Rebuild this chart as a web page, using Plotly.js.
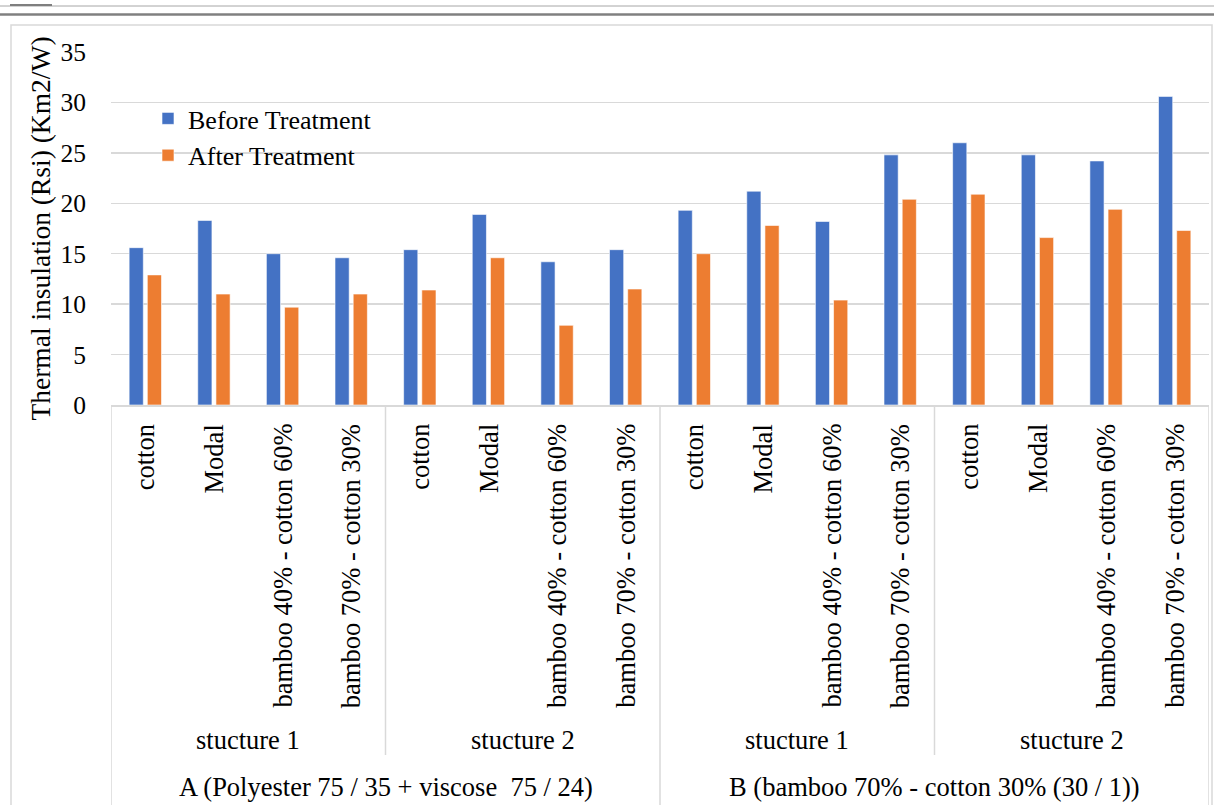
<!DOCTYPE html>
<html>
<head>
<meta charset="utf-8">
<script src="https://cdn.plot.ly/plotly-3.0.1.min.js"></script>
<style>
  html, body { margin: 0; padding: 0; background: #ffffff; }
  #chart { width: 1214px; height: 805px; }
</style>
</head>
<body>
<div id="chart"></div>
<script>
// ---- Data ----
const varieties = [
  'cotton', 'Modal', 'bamboo 40% - cotton 60%', 'bamboo 70% - cotton 30%',
  'cotton', 'Modal', 'bamboo 40% - cotton 60%', 'bamboo 70% - cotton 30%',
  'cotton', 'Modal', 'bamboo 40% - cotton 60%', 'bamboo 70% - cotton 30%',
  'cotton', 'Modal', 'bamboo 40% - cotton 60%', 'bamboo 70% - cotton 30%'
];
const structures = ['stucture 1', 'stucture 2', 'stucture 1', 'stucture 2'];
const groups = ['A (Polyester 75 / 35 + viscose&nbsp; 75 / 24)', 'B (bamboo 70% - cotton 30% (30 / 1))'];
const beforeTreatment = [15.6, 18.3, 15.0, 14.6, 15.4, 18.9, 14.2, 15.4, 19.3, 21.2, 18.2, 24.8, 26.0, 24.8, 24.2, 30.6];
const afterTreatment  = [12.9, 11.0, 9.7, 11.0, 11.4, 14.6, 7.9, 11.5, 15.0, 17.8, 10.4, 20.4, 20.9, 16.6, 19.4, 17.3];
const seriesNames = ['Before Treatment', 'After Treatment'];
const yTitle = 'Thermal insulation (Rsi) (Km2/W)';

// ---- Layout constants ----
const W = 1214, H = 805;
const mL = 111, mR = 5, mT = 52, mB = 400;
const plotH = H - mT - mB;
const plotW = W - mL - mR;
const py = px => ((H - mB) - px) / plotH;   // pixel y -> paper y
const pxr = px => (px - mL) / plotW;          // pixel x -> paper x
const FONT = "'Liberation Serif', 'Times New Roman', serif";
const gridCol = '#d9d9d9';
const LBL = 26.5;

const xIdx = varieties.map((v, i) => i);
const perStruct = varieties.length / structures.length;
const perGroup = varieties.length / groups.length;

const traces = [
  { type: 'bar', name: seriesNames[0], x: xIdx, y: beforeTreatment,
    marker: { color: '#4472C4', line: { color: '#ffffff', width: 0.6 } }, hoverinfo: 'y' },
  { type: 'bar', name: seriesNames[1], x: xIdx, y: afterTreatment,
    marker: { color: '#ED7D31', line: { color: '#ffffff', width: 0.6 } }, hoverinfo: 'y' }
];

const annotations = [];
const shapes = [];

// variety labels
varieties.forEach((v, i) => {
  annotations.push({ xref: 'x', yref: 'paper', x: i, y: py(422), text: v, textangle: -90,
    showarrow: false, xanchor: 'center', yanchor: 'top',
    font: { family: FONT, size: LBL, color: '#000' } });
});
// structure labels
structures.forEach((s, k) => {
  annotations.push({ xref: 'x', yref: 'paper', x: k * perStruct + (perStruct - 1) / 2, y: py(740), text: s,
    showarrow: false, xanchor: 'center', yanchor: 'middle',
    font: { family: FONT, size: LBL, color: '#000' } });
});
// group labels
groups.forEach((g, k) => {
  annotations.push({ xref: 'x', yref: 'paper', x: k * perGroup + (perGroup - 1) / 2, y: py(787), text: g,
    showarrow: false, xanchor: 'center', yanchor: 'middle',
    font: { family: FONT, size: LBL, color: '#000' } });
});

// dividers
for (let k = 0; k <= structures.length; k++) {
  const xv = k * perStruct - 0.5;
  const isGroup = (k * perStruct) % perGroup === 0;
  shapes.push({ type: 'line', xref: 'x', yref: 'paper', x0: xv, x1: xv, y0: 0, y1: py(isGroup ? 810 : 755),
    line: { color: gridCol, width: 1.5 } });
}
// outer chart border
shapes.push({ type: 'rect', xref: 'paper', yref: 'paper', x0: pxr(11), x1: pxr(1212),
  y0: py(812), y1: py(25), line: { color: '#d9d9d9', width: 1.5 }, fillcolor: 'rgba(0,0,0,0)', layer: 'below' });
// top page rules
shapes.push({ type: 'line', xref: 'paper', yref: 'paper', x0: pxr(0), x1: pxr(W),
  y0: py(6), y1: py(6), line: { color: '#a6a6a6', width: 1 } });
shapes.push({ type: 'line', xref: 'paper', yref: 'paper', x0: pxr(0), x1: pxr(W),
  y0: py(14.5), y1: py(14.5), line: { color: '#808080', width: 2.5 } });
shapes.push({ type: 'line', xref: 'paper', yref: 'paper', x0: pxr(10), x1: pxr(52),
  y0: py(5), y1: py(5), line: { color: '#7f7f7f', width: 2 } });

const layout = {
  width: W, height: H,
  margin: { l: mL, r: mR, t: mT, b: mB, pad: 0 },
  paper_bgcolor: '#ffffff', plot_bgcolor: '#ffffff',
  font: { family: FONT, size: 25, color: '#000' },
  barmode: 'group', bargap: 0.47, bargroupgap: 0.22,
  showlegend: true,
  legend: { x: pxr(148), y: py(95), xanchor: 'left', yanchor: 'top',
    bgcolor: 'rgba(0,0,0,0)', font: { family: FONT, size: 26, color: '#000' }, tracegroupgap: 0 },
  xaxis: { range: [-0.5, varieties.length - 0.5], showticklabels: false, showgrid: false, zeroline: false,
    showline: true, linecolor: gridCol, linewidth: 1.5, ticks: '', fixedrange: true },
  yaxis: { range: [0, 35], dtick: 5, tick0: 0, showgrid: true, gridcolor: gridCol, gridwidth: 1.5,
    zeroline: false, showline: false, ticks: 'outside', ticklen: 19, tickcolor: 'rgba(0,0,0,0)',
    tickfont: { family: FONT, size: 25.5, color: '#000' },
    title: { text: yTitle, font: { family: FONT, size: 27.5, color: '#000' }, standoff: 1 }, fixedrange: true },
  annotations: annotations,
  shapes: shapes
};

Plotly.newPlot('chart', traces, layout, { displayModeBar: false, staticPlot: true });
</script>
</body>
</html>
